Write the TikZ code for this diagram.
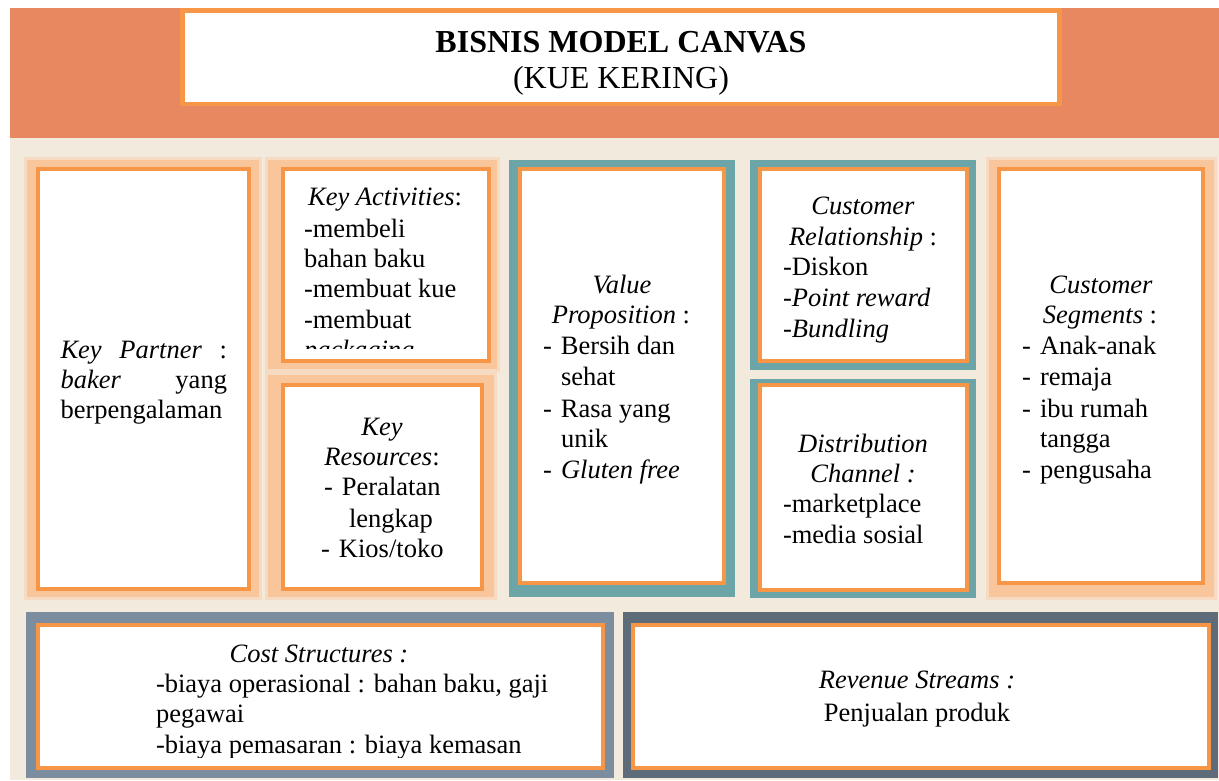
\documentclass[tikz,border=0pt]{standalone}
\usepackage{fontspec}
\setmainfont{Liberation Serif}
\definecolor{band}{RGB}{232,136,97}
\definecolor{cream}{RGB}{242,234,221}
\definecolor{peachA}{RGB}{246,218,194}
\definecolor{peachB}{RGB}{249,198,156}
\definecolor{obord}{RGB}{247,150,70}
\definecolor{teal}{RGB}{108,165,168}
\definecolor{slateA}{RGB}{124,141,160}
\definecolor{slateB}{RGB}{94,107,120}
\begin{document}
\begin{tikzpicture}[x=1pt,y=-1pt,
  box/.style={draw=obord,line width=4.5pt,fill=white},
  txt/.style={inner sep=0pt,outer sep=0pt,anchor=base west,font=\fontsize{26.5}{30.5}\selectfont},
  ctxt/.style={inner sep=0pt,outer sep=0pt,anchor=base,font=\fontsize{26.5}{30.5}\selectfont},
  ttl/.style={inner sep=0pt,outer sep=0pt,anchor=base,font=\fontsize{32}{36}\selectfont}]
\useasboundingbox (0,0) rectangle (1219,780);
\fill[white] (0,0) rectangle (1219,780);
\fill[cream] (10,8) rectangle (1219,780);
% top band
\fill[band] (10,8) rectangle (1219,138);
% halos
\newcommand{\halo}[4]{%
  \fill[peachA] (#1-3,#2-3) rectangle (#3+3,#4+3);
  \fill[peachB] (#1,#2) rectangle (#3,#4);}
\halo{27}{160}{259}{597}
\halo{268}{160}{497}{369}
\halo{268}{375}{494}{597}
\halo{989}{160}{1214}{597}
\fill[teal] (509,160) rectangle (735,597);
\fill[teal] (750,160) rectangle (976,370);
\fill[teal] (750,379) rectangle (976,598);
\fill[slateA] (26,612) rectangle (614,778);
\fill[slateB] (623,612) rectangle (1218,778);
% boxes
\draw[box] (182.5,10.5) rectangle (1059.5,104);
\draw[box] (38,169) rectangle (249,589);
\draw[box] (283,169) rectangle (489,361);
\draw[box] (283,385) rectangle (482,589);
\draw[box] (520,169) rectangle (724,583);
\draw[box] (760,169) rectangle (967,361);
\draw[box] (760,385) rectangle (967,590);
\draw[box] (999,169) rectangle (1203,583);
\draw[box] (38,625) rectangle (603,768);
\draw[box] (633,625) rectangle (1209,768);
% title
\node[ttl] (t0) at (621,52) {\textbf{BISNIS MODEL CANVAS}};
\node[ttl] (t1) at (621,88) {(KUE KERING)};
% key partner
\node[txt] (kp1) at (60.5,358) {\makebox[166.5pt][s]{\textit{Key} \textit{Partner} :}};
\node[txt] (kp2) at (60.5,388) {\makebox[166.5pt][s]{\textit{baker} yang}};
\node[txt] (kp3) at (60.5,418) {berpengalaman};
% key activities
\node[ctxt] (ka0) at (385,205) {\textit{Key Activities}:};
\node[txt] (ka1) at (304,237) {-membeli};
\node[txt] (ka2) at (304,267) {bahan baku};
\node[txt] (ka3) at (304,297) {-membuat kue};
\node[txt] (ka4) at (304,328) {-membuat};
\begin{scope}
\clip (283,169) rectangle (489,348.5);
\node[txt] (ka5) at (304,358.5) {\textit{packaging}};
\end{scope}
% key resources
\node[ctxt] (kr0) at (382,435) {\textit{Key}};
\node[ctxt] (kr1) at (382,465) {\textit{Resources}:};
\node[txt] (kr2) at (324,495) {\makebox[18pt][l]{-}Peralatan};
\node[txt] (kr3) at (349,527) {lengkap};
\node[txt] (kr4) at (321,557) {\makebox[18pt][l]{-}Kios/toko};
% value proposition
\node[ctxt] (vp0) at (622,293) {\textit{Value}};
\node[ctxt] (vp1) at (621,323) {\textit{Proposition} :};
\node[txt] (vp2) at (543,354) {\makebox[18pt][l]{-}Bersih dan};
\node[txt] (vp3) at (561,385) {sehat};
\node[txt] (vp4) at (543,417) {\makebox[18pt][l]{-}Rasa yang};
\node[txt] (vp5) at (561,447) {unik};
\node[txt] (vp6) at (543,478) {\makebox[18pt][l]{-}\textit{Gluten free}};
% customer relationship
\node[ctxt] (cr0) at (863,214) {\textit{Customer}};
\node[ctxt] (cr1) at (863,245) {\textit{Relationship} :};
\node[txt] (cr2) at (783,275) {-Diskon};
\node[txt] (cr3) at (783,306) {\textit{-Point reward}};
\node[txt] (cr4) at (783,337) {\textit{-Bundling}};
% distribution channel
\node[ctxt] (dc0) at (863,452) {\textit{Distribution}};
\node[ctxt] (dc1) at (863,482) {\textit{Channel :}};
\node[txt] (dc2) at (783,512) {-marketplace};
\node[txt] (dc3) at (783,543) {-media sosial};
% customer segments
\node[ctxt] (cs0) at (1101,293) {\textit{Customer}};
\node[ctxt] (cs1) at (1100,323) {\textit{Segments} :};
\node[txt] (cs2) at (1022,354) {\makebox[18pt][l]{-}Anak-anak};
\node[txt] (cs3) at (1022,385) {\makebox[18pt][l]{-}remaja};
\node[txt] (cs4) at (1022,417) {\makebox[18pt][l]{-}ibu rumah};
\node[txt] (cs5) at (1040,447) {tangga};
\node[txt] (cs6) at (1022,478) {\makebox[18pt][l]{-}pengusaha};
% cost structures
\node[ctxt] (co0) at (319,662) {\textit{Cost Structures :}};
\node[txt] (co1) at (156,692) {-biaya operasional : bahan baku, gaji};
\node[txt] (co2) at (156,722) {pegawai};
\begin{scope}
\clip (38,625) rectangle (603,757);
\node[txt] (co3) at (156,753) {-biaya pemasaran : biaya kemasan};
\end{scope}
% revenue streams
\node[ctxt] (re0) at (917,688) {\textit{Revenue Streams :}};
\node[ctxt] (re1) at (917,721) {Penjualan produk};
\end{tikzpicture}
\end{document}
